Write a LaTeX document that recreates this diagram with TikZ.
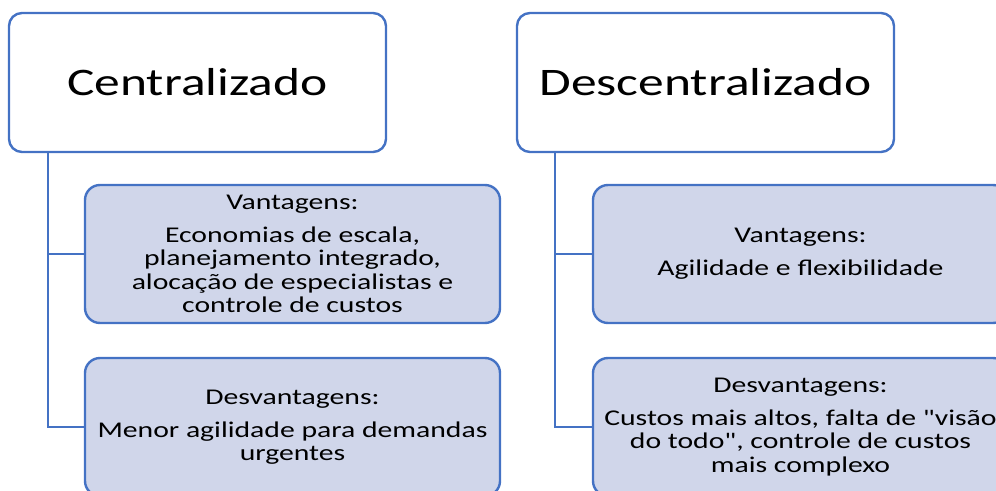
\documentclass[tikz,border=0pt]{standalone}
\usepackage{fontspec}
\setmainfont{Carlito}[FakeStretch=1.32,Ligatures=TeXOff]
\usetikzlibrary{positioning}
\definecolor{smartblue}{RGB}{68,114,196}
\definecolor{smartfill}{RGB}{208,214,234}

\begin{document}
\begin{tikzpicture}[
  x=1pt,y=1pt,
  every node/.style={draw=smartblue,line width=2.4pt,outer sep=0pt,align=center},
  head/.style={minimum width=377pt,minimum height=139pt,rounded corners=13pt,font=\fontsize{39}{47}\selectfont},
  item/.style={fill=smartfill,minimum width=415pt,minimum height=138pt,rounded corners=15pt,font=\fontsize{22.5}{23.5}\selectfont},
  link/.style={draw=smartblue,line width=2.4pt},
  ]
  \useasboundingbox (0,0) rectangle (996,-490);
  \clip (0,0) rectangle (996,-490);
  % two heads
  \node[head](cent) at (197.5,-82.5){Centralizado};
  \node[head,right=131pt of cent](desc){Descentralizado};
  % left column
  \node[item,below right=33pt and 76pt of cent.south west](cv){Vantagens:\\[9.5pt]
    Economias de escala,\\ planejamento integrado,\\ alocação de especialistas e\\ controle de custos};
  \node[item,below=35pt of cv](cd){Desvantagens:\\[9.5pt]
    Menor agilidade para demandas\\ urgentes};
  % right column
  \node[item,below right=33pt and 76pt of desc.south west](dv){Vantagens:\\[9.5pt]
    Agilidade e flexibilidade};
  \node[item,below=35pt of dv](dd){Desvantagens:\\[9.5pt]
    Custos mais altos, falta de "visão\\ do todo", controle de custos\\ mais complexo};
  \path[link]
  ([xshift=39pt]cent.south west) |- (cv.west)
  ([xshift=39pt]cent.south west) |- (cd.west)
  ([xshift=38pt]desc.south west) |- (dv.west)
  ([xshift=38pt]desc.south west) |- (dd.west);
\end{tikzpicture}
\end{document}
